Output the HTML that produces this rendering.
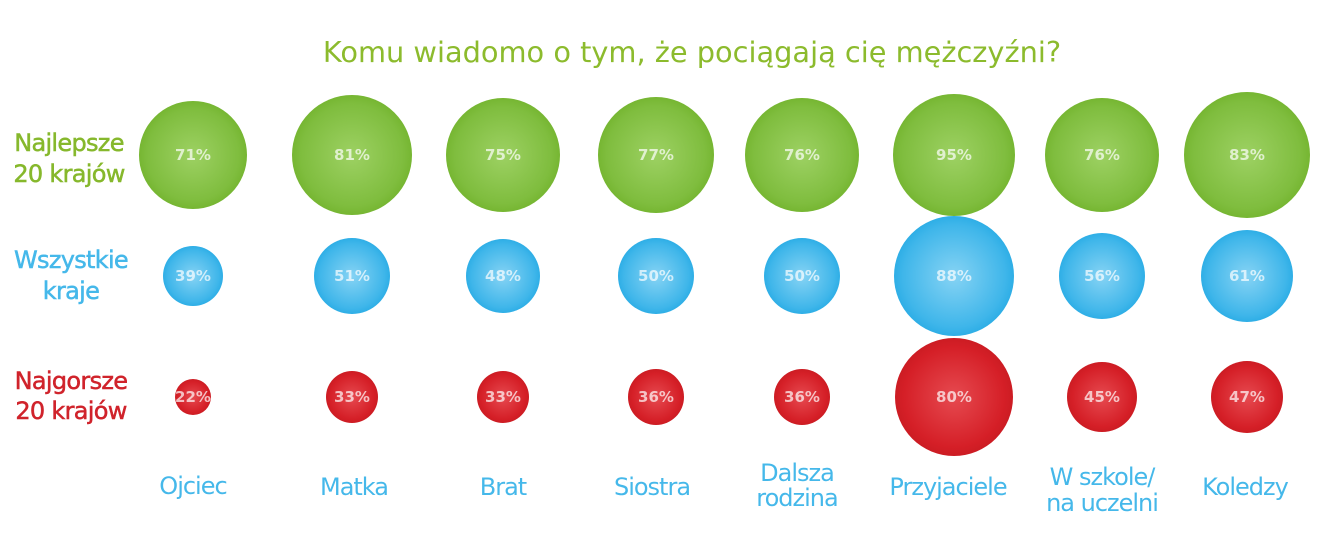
<!DOCTYPE html>
<html><head><meta charset="utf-8"><style>
body{margin:0;background:#fff;}
svg{display:block;font-family:"DejaVu Sans","Liberation Sans",sans-serif;}
</style></head><body>
<svg width="1319" height="554" viewBox="0 0 1319 554">
<defs>
<radialGradient id="g" cx="50%" cy="50%" r="50%"><stop offset="0" stop-color="#9dd163"/><stop offset="0.85" stop-color="#7fbd3e"/><stop offset="1" stop-color="#76b632"/></radialGradient>
<radialGradient id="b" cx="50%" cy="50%" r="50%"><stop offset="0" stop-color="#86d3f4"/><stop offset="0.85" stop-color="#3fb6ea"/><stop offset="1" stop-color="#2eaee6"/></radialGradient>
<radialGradient id="r" cx="50%" cy="50%" r="50%"><stop offset="0" stop-color="#e64a50"/><stop offset="0.85" stop-color="#d51f27"/><stop offset="1" stop-color="#cc1c23"/></radialGradient>
</defs>
<text x="692" y="62" text-anchor="middle" font-size="28.8" fill="#8cbb2d">Komu wiadomo o tym, że pociągają cię mężczyźni?</text>
<g font-size="24" text-anchor="middle" letter-spacing="-0.7" stroke-width="0.5">
<text x="69" y="151" fill="#86b82c" stroke="#86b82c">Najlepsze</text><text x="69" y="182" fill="#86b82c" stroke="#86b82c">20 krajów</text>
<text x="71" y="268" fill="#45b8ea" stroke="#45b8ea">Wszystkie</text><text x="71" y="299" fill="#45b8ea" stroke="#45b8ea">kraje</text>
<text x="71" y="389" fill="#d0232b" stroke="#d0232b">Najgorsze</text><text x="71" y="419" fill="#d0232b" stroke="#d0232b">20 krajów</text>
</g>
<g>
<circle cx="193" cy="155" r="54" fill="url(#g)"/><circle cx="352" cy="155" r="60" fill="url(#g)"/><circle cx="503" cy="155" r="57" fill="url(#g)"/><circle cx="656" cy="155" r="58" fill="url(#g)"/><circle cx="802" cy="155" r="57" fill="url(#g)"/><circle cx="954" cy="155" r="61" fill="url(#g)"/><circle cx="1102" cy="155" r="57" fill="url(#g)"/><circle cx="1247" cy="155" r="63" fill="url(#g)"/>
<circle cx="193" cy="276" r="30" fill="url(#b)"/><circle cx="352" cy="276" r="38" fill="url(#b)"/><circle cx="503" cy="276" r="37" fill="url(#b)"/><circle cx="656" cy="276" r="38" fill="url(#b)"/><circle cx="802" cy="276" r="38" fill="url(#b)"/><circle cx="954" cy="276" r="60" fill="url(#b)"/><circle cx="1102" cy="276" r="43" fill="url(#b)"/><circle cx="1247" cy="276" r="46" fill="url(#b)"/>
<circle cx="193" cy="397" r="18" fill="url(#r)"/><circle cx="352" cy="397" r="26" fill="url(#r)"/><circle cx="503" cy="397" r="26" fill="url(#r)"/><circle cx="656" cy="397" r="28" fill="url(#r)"/><circle cx="802" cy="397" r="28" fill="url(#r)"/><circle cx="954" cy="397" r="59" fill="url(#r)"/><circle cx="1102" cy="397" r="35" fill="url(#r)"/><circle cx="1247" cy="397" r="36" fill="url(#r)"/>
</g>
<g font-size="15" font-weight="bold" text-anchor="middle" fill="#fff" fill-opacity="0.7">
<text x="193" y="160">71%</text><text x="352" y="160">81%</text><text x="503" y="160">75%</text><text x="656" y="160">77%</text><text x="802" y="160">76%</text><text x="954" y="160">95%</text><text x="1102" y="160">76%</text><text x="1247" y="160">83%</text>
<text x="193" y="281">39%</text><text x="352" y="281">51%</text><text x="503" y="281">48%</text><text x="656" y="281">50%</text><text x="802" y="281">50%</text><text x="954" y="281">88%</text><text x="1102" y="281">56%</text><text x="1247" y="281">61%</text>
<text x="193" y="402">22%</text><text x="352" y="402">33%</text><text x="503" y="402">33%</text><text x="656" y="402">36%</text><text x="802" y="402">36%</text><text x="954" y="402">80%</text><text x="1102" y="402">45%</text><text x="1247" y="402">47%</text>
</g>
<g font-size="24" text-anchor="middle" fill="#45b8ea" letter-spacing="-1">
<text x="193" y="494">Ojciec</text><text x="354" y="495">Matka</text><text x="503" y="495">Brat</text><text x="652" y="495">Siostra</text>
<text x="797" y="481">Dalsza</text><text x="797" y="506">rodzina</text>
<text x="948" y="495">Przyjaciele</text>
<text x="1102" y="485">W szkole/</text><text x="1102" y="511">na uczelni</text>
<text x="1245" y="495">Koledzy</text>
</g>
</svg>
</body></html>
